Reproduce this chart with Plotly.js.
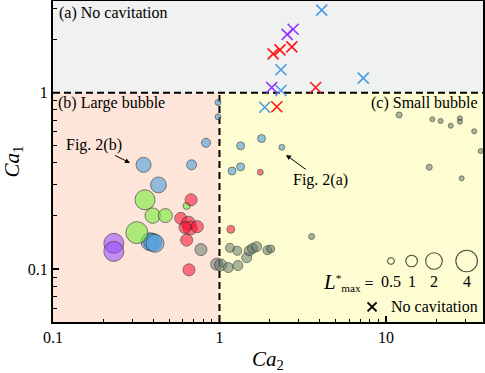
<!DOCTYPE html>
<html>
<head>
<meta charset="utf-8">
<script src="https://cdn.plot.ly/plotly-3.0.1.min.js"></script>
<style>
    html, body { margin: 0; padding: 0; background: #fff; }
    #chart { width: 485px; height: 373px; }
</style>
</head>
<body>
<div id="chart"></div>
<script>
// Ca2 / Ca1 / L*max, one set per colour group
const blueX = [0.98, 0.98, 0.83, 0.35, 0.68, 0.43, 0.382, 0.397, 0.41, 1.19, 1.34, 1.34, 1.79, 2.37];
const blueY = [0.88, 0.73, 0.52, 0.39, 0.39, 0.30, 0.143, 0.142, 0.140, 0.36, 0.38, 0.50, 0.55, 0.49];
const blueL = [0.45, 0.45, 0.7, 1.6, 0.8, 1.8, 2.4, 2.4, 2.4, 0.6, 0.6, 0.6, 0.6, 0.45];

const greenX = [0.357, 0.635, 0.397, 0.473, 0.319];
const greenY = [0.247, 0.228, 0.201, 0.201, 0.161];
const greenL = [3.2, 0.53, 1.7, 1.4, 4.2];

const redX = [0.675, 0.585, 0.650, 0.666, 0.736, 0.621, 0.635, 0.656, 1.17, 1.76];
const redY = [0.247, 0.194, 0.182, 0.171, 0.174, 0.172, 0.146, 0.099, 0.168, 0.354];
const redL = [1.06, 1.06, 1.4, 1.4, 1.06, 1.06, 1.06, 1.06, 0.6, 0.45];

const purpleX = [0.232, 0.232];
const purpleY = [0.140, 0.126];
const purpleL = [3.2, 3.2];

const grayX = [0.774, 0.962, 1.017, 1.13, 1.29, 1.156, 1.28, 1.456, 1.51, 1.58, 1.67, 1.94, 2.03, 3.58,
               12.0, 19.0, 21.3, 24.5, 27.8, 27.8, 33.9, 37.1, 18.2, 28.5];
const grayY = [0.129, 0.1066, 0.1056, 0.102, 0.1047, 0.132, 0.127, 0.116, 0.127, 0.131, 0.134, 0.128, 0.130, 0.153,
               0.748, 0.707, 0.691, 0.650, 0.716, 0.685, 0.604, 0.467, 0.378, 0.327];
const grayL = [1.06, 1.06, 1.06, 0.8, 0.8, 0.7, 0.7, 0.8, 0.8, 0.8, 0.8, 0.7, 0.6, 0.46,
               0.46, 0.4, 0.4, 0.4, 0.4, 0.4, 0.4, 0.4, 0.46, 0.4];

// no cavitation runs (crosses)
const blueNcX = [4.11, 2.34, 7.31, 2.34, 1.87];
const blueNcY = [2.94, 1.35, 1.21, 1.03, 0.827];
const redNcX = [2.72, 2.31, 2.10, 3.78, 2.21];
const redNcY = [1.82, 1.75, 1.66, 1.07, 0.833];
const purpleNcX = [2.77, 2.55, 2.06];
const purpleNcY = [2.29, 2.14, 1.07];

// size key
const legendL = [0.5, 1, 2, 4];
const legendLabels = ['0.5', '1', '2', '4'];

const SERIF = '"Liberation Serif", "Times New Roman", serif';
const xRange = [-1, 1.583];
const yRange = [-1.3, 0.52];
const legendKeyX = [0.786, 0.834, 0.886, 0.962];

// bubble diameter (px) for a given L*max
function sizeOf(L) {
    return 2 * (5.8 + 2.5 * Math.log2(L));
}

function bubbles(x, y, L, fill) {
    return {
        x: x, y: y, type: 'scatter', mode: 'markers', hoverinfo: 'skip',
        marker: {
            size: L.map(sizeOf), color: fill,
            line: { color: 'rgba(40,45,45,0.85)', width: 1 }
        }
    };
}

function crosses(x, y, color) {
    return {
        x: x, y: y, type: 'scatter', mode: 'markers', hoverinfo: 'skip',
        marker: { symbol: 'x-thin-open', size: 11, color: color, line: { color: color, width: 1.6 } }
    };
}

function frac(v, r) {
    return (v - r[0]) / (r[1] - r[0]);
}

function renderChart() {
    const fx = frac(0, xRange);
    const fy = frac(0, yRange);

    const data = [
        bubbles(grayX, grayY, grayL, 'rgba(100,120,106,0.78)'),
        bubbles(blueX, blueY, blueL, 'rgba(80,160,222,0.88)'),
        bubbles(greenX, greenY, greenL, 'rgba(122,236,60,0.88)'),
        bubbles(redX, redY, redL, 'rgba(255,20,52,0.82)'),
        bubbles(purpleX, purpleY, purpleL, 'rgba(150,72,255,0.8)'),
        crosses(blueNcX, blueNcY, '#4b9be6'),
        crosses(redNcX, redNcY, '#ff1414'),
        crosses(purpleNcX, purpleNcY, '#9433ff'),
        {
            x: legendKeyX, y: legendL.map(() => 0.19), xaxis: 'x2', yaxis: 'y2',
            type: 'scatter', mode: 'markers', hoverinfo: 'skip',
            marker: { size: legendL.map(sizeOf), color: 'rgba(0,0,0,0)', line: { color: '#000', width: 1.1 } }
        },
        {
            x: [0.742], y: [0.047], xaxis: 'x2', yaxis: 'y2',
            type: 'scatter', mode: 'markers', hoverinfo: 'skip',
            marker: { symbol: 'x-thin-open', size: 9, color: '#000', line: { color: '#000', width: 2 } }
        }
    ];

    const shapes = [
        { type: 'rect', xref: 'x domain', yref: 'y domain', x0: 0, x1: 1, y0: fy, y1: 1,
          fillcolor: '#f0f1f1', line: { width: 0 }, layer: 'below' },
        { type: 'rect', xref: 'x domain', yref: 'y domain', x0: 0, x1: fx, y0: 0, y1: fy,
          fillcolor: '#fde5d9', line: { width: 0 }, layer: 'below' },
        { type: 'rect', xref: 'x domain', yref: 'y domain', x0: fx, x1: 1, y0: 0, y1: fy,
          fillcolor: '#fefdd2', line: { width: 0 }, layer: 'below' },
        { type: 'line', xref: 'x domain', yref: 'y domain', x0: 0, x1: 1, y0: fy, y1: fy,
          line: { color: '#000', width: 2, dash: '7px,4px' }, layer: 'below' },
        { type: 'line', xref: 'x domain', yref: 'y domain', x0: fx, x1: fx, y0: 0, y1: fy,
          line: { color: '#000', width: 2, dash: '7px,4px' }, layer: 'below' }
    ];

    const textFont = { family: SERIF, size: 16, color: '#000' };
    const annotations = [
        { text: '(a) No cavitation', xref: 'paper', yref: 'paper', x: 0, y: 0.963, xshift: 4,
          xanchor: 'left', yanchor: 'middle', showarrow: false, font: textFont },
        { text: '(b) Large bubble', xref: 'paper', yref: 'paper', x: 0, y: 0.682, xshift: 3,
          xanchor: 'left', yanchor: 'middle', showarrow: false, font: textFont },
        { text: '(c) Small bubble', xref: 'paper', yref: 'paper', x: 1, y: 0.682, xshift: -3,
          xanchor: 'right', yanchor: 'middle', showarrow: false, font: textFont },
        { text: 'Fig. 2(b)', x: Math.log10(0.29), y: Math.log10(0.40), ax: -36, ay: -18,
          showarrow: true, arrowhead: 2, arrowsize: 1, arrowwidth: 1, arrowcolor: '#000', font: textFont },
        { text: 'Fig. 2(a)', x: Math.log10(2.51), y: Math.log10(0.444), ax: 34, ay: 25,
          showarrow: true, arrowhead: 2, arrowsize: 1, arrowwidth: 1, arrowcolor: '#000', font: textFont },
        { text: '<i><span style="font-size:21px">L</span></i><sup>*</sup><sub>max</sub> =',
          xref: 'paper', yref: 'paper', x: 0.752, y: 0.1255,
          xanchor: 'right', yanchor: 'middle', showarrow: false, font: textFont },
        { text: 'No cavitation', xref: 'paper', yref: 'paper', x: 1, y: 0.047, xshift: -3,
          xanchor: 'right', yanchor: 'middle', showarrow: false, font: textFont }
    ];
    legendLabels.forEach((label, i) => {
        annotations.push({
            text: label, xref: 'paper', yref: 'paper', x: legendKeyX[i], y: 0.1255,
            xanchor: 'center', yanchor: 'middle', showarrow: false, font: textFont
        });
    });

    const axisCommon = {
        type: 'log', showgrid: false, zeroline: false,
        showline: true, linecolor: '#000', linewidth: 2, mirror: true,
        ticks: 'inside', ticklen: 6, tickwidth: 1.2, tickcolor: '#000',
        minor: { ticks: 'inside', ticklen: 3.5, tickwidth: 1, tickcolor: '#000', dtick: 'D1', showgrid: false },
        tickvals: [0.1, 1, 10],
        ticktext: ['0.1', '1', '10'],
        tickfont: { family: SERIF, size: 16, color: '#000' }
    };

    const layout = {
        width: 485,
        height: 373,
        margin: { l: 53, r: 2, t: 1, b: 51 },
        paper_bgcolor: '#fff',
        plot_bgcolor: 'rgba(0,0,0,0)',
        showlegend: false,
        xaxis: Object.assign({}, axisCommon, {
            range: xRange,
            title: { text: '<i>Ca</i><sub>2</sub>', font: { family: SERIF, size: 21, color: '#000' }, standoff: 10 }
        }),
        yaxis: Object.assign({}, axisCommon, {
            range: yRange,
            title: { text: '<i>Ca</i><sub>1</sub>', font: { family: SERIF, size: 21, color: '#000' }, standoff: 6 }
        }),
        xaxis2: { overlaying: 'x', range: [0, 1], visible: false },
        yaxis2: { overlaying: 'y', range: [0, 1], visible: false },
        shapes: shapes,
        annotations: annotations
    };

    Plotly.newPlot('chart', data, layout, { displayModeBar: false, staticPlot: true });
}

renderChart();
</script>
</body>
</html>
